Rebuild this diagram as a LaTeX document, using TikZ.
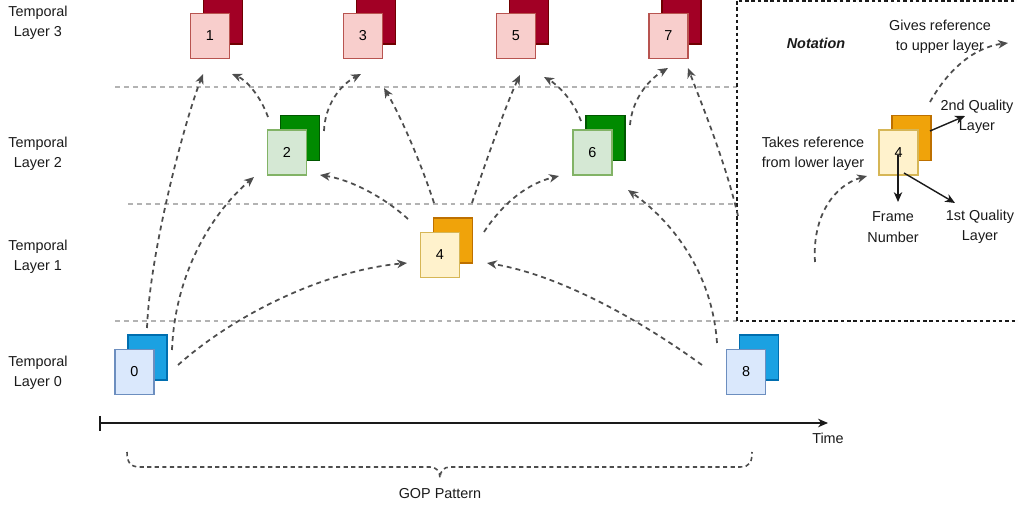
\documentclass[tikz,border=0pt]{standalone}
\usepackage{fontspec}
\setmainfont{Liberation Sans}
\usetikzlibrary{arrows.meta,calc}

% layer colours
\definecolor{lthreeF}{HTML}{F8CECC}\definecolor{lthreeFd}{HTML}{B85450}
\definecolor{lthreeB}{HTML}{A20025}\definecolor{lthreeBd}{HTML}{6F0000}
\definecolor{ltwoF}{HTML}{D5E8D4}\definecolor{ltwoFd}{HTML}{82B366}
\definecolor{ltwoB}{HTML}{008A00}\definecolor{ltwoBd}{HTML}{005700}
\definecolor{loneF}{HTML}{FFF2CC}\definecolor{loneFd}{HTML}{D6B656}
\definecolor{loneB}{HTML}{F0A30A}\definecolor{loneBd}{HTML}{BD7000}
\definecolor{lzeroF}{HTML}{DAE8FC}\definecolor{lzeroFd}{HTML}{6C8EBF}
\definecolor{lzeroB}{HTML}{1BA1E2}\definecolor{lzeroBd}{HTML}{006EAF}
\definecolor{refgray}{HTML}{4D4D4D}
\definecolor{sepgray}{HTML}{B3B3B3}
\definecolor{inkdark}{HTML}{1A1A1A}

% one frame: dark back square (2nd quality layer) behind a light front square
\newcommand{\gopframe}[5]{%
  \node[framebox,#3] (#1b) at ($(#2)+(13,-14.5)$) {};
  \node[framebox,#4] (#1) at (#2) {#5};
}

\begin{document}
\begin{tikzpicture}[
  x=0.02cm, y=-0.02cm,
  font=\fontsize{8.2}{11.6}\selectfont,
  >={Stealth[length=5.6pt,width=4.8pt,inset=1.7pt]},
  framebox/.style={draw, line width=0.6pt, minimum width=0.78cm,
    minimum height=0.9cm, inner sep=0pt, text=black},
  tthreeB/.style={fill=lthreeB, draw=lthreeBd},
  tthreeF/.style={fill=lthreeF, draw=lthreeFd},
  ttwoB/.style={fill=ltwoB, draw=ltwoBd},
  ttwoF/.style={fill=ltwoF, draw=ltwoFd},
  toneB/.style={fill=loneB, draw=loneBd},
  toneF/.style={fill=loneF, draw=loneFd},
  tzeroB/.style={fill=lzeroB, draw=lzeroBd},
  tzeroF/.style={fill=lzeroF, draw=lzeroFd},
  refarrow/.style={->, draw=refgray, line width=1pt,
    dash pattern=on 2.8pt off 2.3pt},
  sepline/.style={draw=sepgray, line width=0.7pt,
    dash pattern=on 2.8pt off 2.3pt},
  notebox/.style={draw=inkdark, line width=0.9pt,
    dash pattern=on 2pt off 1.6pt},
  solidarrow/.style={->, draw=inkdark, line width=0.8pt},
  lbl/.style={align=center, inner sep=0pt, text=inkdark},
]
\useasboundingbox (0,0) rectangle (1015,513);

% layer separators
\coordinate (s1a) at (115,87);  \coordinate (s1b) at (737,87);
\coordinate (s2a) at (128,204); \coordinate (s2b) at (737,204);
\coordinate (s3a) at (115,321); \coordinate (s3b) at (737,321);
\draw[sepline] (s1a) -- (s1b);
\draw[sepline] (s2a) -- (s2b);
\draw[sepline] (s3a) -- (s3b);

% notation panel
\coordinate (nbtl) at (737,1);
\coordinate (nbbr) at (1030,321);
\draw[notebox] (nbtl) rectangle (nbbr);

% layer labels
\node[lbl] (lt3) at (38,22.5) {Temporal\\Layer 3};
\node[lbl] (lt2) at (38,154) {Temporal\\Layer 2};
\node[lbl] (lt1) at (38,257) {Temporal\\Layer 1};
\node[lbl] (lt0) at (38,373) {Temporal\\Layer 0};

% frames of the GOP
\gopframe{f1}{210,36}{tthreeB}{tthreeF}{1}
\gopframe{f3}{363,36}{tthreeB}{tthreeF}{3}
\gopframe{f5}{516,36}{tthreeB}{tthreeF}{5}
\gopframe{f7}{668.5,36}{tthreeB}{tthreeF}{7}
\gopframe{f2}{287,152.5}{ttwoB}{ttwoF}{2}
\gopframe{f6}{592.5,152.5}{ttwoB}{ttwoF}{6}
\gopframe{f4}{440,255}{toneB}{toneF}{4}
\gopframe{f0}{134.5,372}{tzeroB}{tzeroF}{0}
\gopframe{f8}{746,372}{tzeroB}{tzeroF}{8}

% reference arrow end points
\coordinate (r01s) at (147,328); \coordinate (r01e) at (203,74);
\coordinate (r02s) at (172,350); \coordinate (r02e) at (254,177);
\coordinate (r04s) at (178,365); \coordinate (r04e) at (407,263);
\coordinate (r84s) at (702,365); \coordinate (r84e) at (487,263);
\coordinate (r86s) at (717,343); \coordinate (r86e) at (628,190);
\coordinate (r87s) at (738,216); \coordinate (r87e) at (688,68);
\coordinate (r42s) at (408,219); \coordinate (r42e) at (320,175);
\coordinate (r43s) at (434,203); \coordinate (r43e) at (384,88);
\coordinate (r45s) at (472,203); \coordinate (r45e) at (520,75);
\coordinate (r46s) at (484,232); \coordinate (r46e) at (559,176);
\coordinate (r21s) at (268,117); \coordinate (r21e) at (232,74);
\coordinate (r23s) at (324,131); \coordinate (r23e) at (361,74);
\coordinate (r65s) at (581,121); \coordinate (r65e) at (544,77);
\coordinate (r67s) at (630,125); \coordinate (r67e) at (668,68);

% references between frames
\draw[refarrow] (r01s) .. controls (150,250) and (185,120) .. (r01e);
\draw[refarrow] (r02s) .. controls (175,270) and (215,210) .. (r02e);
\draw[refarrow] (r04s) .. controls (240,310) and (330,270) .. (r04e);
\draw[refarrow] (r84s) .. controls (640,320) and (560,275) .. (r84e);
\draw[refarrow] (r86s) .. controls (712,270) and (670,220) .. (r86e);
\draw[refarrow] (r87s) .. controls (725,160) and (700,100) .. (r87e);
\draw[refarrow] (r42s) .. controls (385,198) and (352,180) .. (r42e);
\draw[refarrow] (r43s) .. controls (420,160) and (400,115) .. (r43e);
\draw[refarrow] (r45s) .. controls (488,155) and (508,100) .. (r45e);
\draw[refarrow] (r46s) .. controls (505,200) and (530,183) .. (r46e);
\draw[refarrow] (r21s) .. controls (260,95) and (246,80) .. (r21e);
\draw[refarrow] (r23s) .. controls (325,105) and (340,85) .. (r23e);
\draw[refarrow] (r65s) .. controls (573,100) and (558,85) .. (r65e);
\draw[refarrow] (r67s) .. controls (632,100) and (648,80) .. (r67e);

% time axis
\coordinate (tstart) at (100,423);
\coordinate (tend) at (828,423);
\draw[->, draw=inkdark, line width=1pt] (tstart) -- (tend);
\draw[draw=inkdark, line width=0.8pt] ($(tstart)+(0,-7)$) -- ($(tstart)+(0,8)$);
\node[lbl] (timelbl) at (828,438) {Time};

% GOP brace
\coordinate (brl) at (127,452);
\coordinate (brm) at (440,478);
\coordinate (brr) at (752,452);
\draw[draw=refgray, line width=0.9pt, dash pattern=on 2.4pt off 1.9pt]
  (brl) .. controls (127,462) and (130,467) .. (140,467) -- (430,467)
  .. controls (436,467) and (440,471) .. (brm)
  .. controls (440,471) and (444,467) .. (450,467) -- (740,467)
  .. controls (750,467) and (752,462) .. (brr);
\node[lbl] (goplbl) at (440,494) {GOP Pattern};

% notation
\node[lbl, font=\fontsize{8.2}{11.6}\selectfont\bfseries\itshape] (nottitle) at (816,43) {Notation};
\node[lbl] (givesref) at (940,37) {Gives reference\\to upper layer};
\node[lbl] (takesref) at (813,154) {Takes reference\\from lower layer};
\node[lbl] (q2lbl) at (977,117) {2nd Quality\\Layer};
\node[lbl] (fnlbl) at (893,227) {Frame\\Number};
\node[lbl] (q1lbl) at (980,227) {1st Quality\\Layer};
\gopframe{n4}{898.5,152.5}{toneB}{toneF}{4}

\coordinate (gvs) at (930,102); \coordinate (gve) at (1008,43);
\coordinate (tks) at (815,262); \coordinate (tke) at (867,176);
\draw[refarrow] (gvs) .. controls (945,75) and (970,48) .. (gve);
\draw[refarrow] (tks) .. controls (812,215) and (835,185) .. (tke);

\coordinate (q2s) at (930,131); \coordinate (q2e) at (965,116);
\coordinate (fns) at (898,155); \coordinate (fne) at (898,202);
\coordinate (q1s) at (904,173); \coordinate (q1e) at (955,203);
\draw[solidarrow] (q2s) -- (q2e);
\draw[solidarrow] (fns) -- (fne);
\draw[solidarrow] (q1s) -- (q1e);
\end{tikzpicture}
\end{document}
